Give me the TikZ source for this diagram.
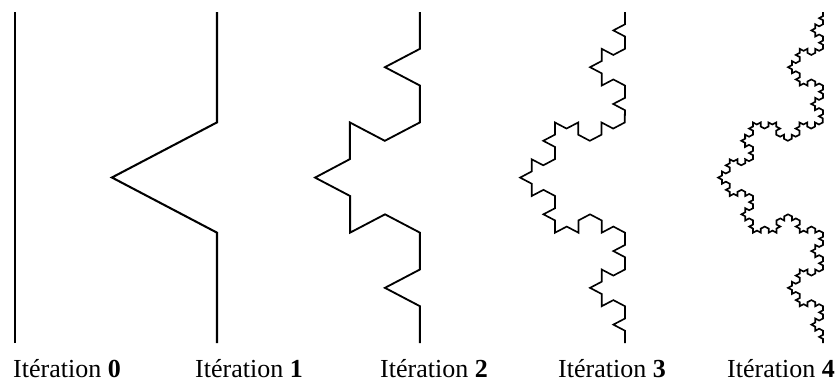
\documentclass[tikz,border=0pt]{standalone}
\usepackage{fontspec}
\setmainfont{Liberation Serif}
\usetikzlibrary{decorations.fractals}
\begin{document}
\begin{tikzpicture}[x=1pt,y=-1pt]
		\tikzstyle{koch}=[line width=1.6pt,line join=miter,decoration=Koch snowflake]
		\tikzstyle{iterlabel}=[anchor=base,inner sep=0pt,font=\fontsize{26}{30}\selectfont]
		\useasboundingbox (0,0) rectangle (838,383);
		\begin{scope}[transform canvas={xscale=1.1}]
		\coordinate (top_0) at (13.6,12);  \coordinate (bot_0) at (13.6,343);
		\coordinate (top_1) at (197.3,12); \coordinate (bot_1) at (197.3,343);
		\coordinate (top_2) at (381.8,12); \coordinate (bot_2) at (381.8,343);
		\coordinate (top_3) at (568.2,12); \coordinate (bot_3) at (568.2,343);
		\coordinate (top_4) at (748.2,12); \coordinate (bot_4) at (748.2,343);
		\draw[koch,line width=2.2pt] (bot_0) -- (top_0);
		\draw[koch,line width=2pt] decorate{(bot_1) -- (top_1)};
		\draw[koch,line width=1.8pt] decorate{decorate{(bot_2) -- (top_2)}};
		\draw[koch] decorate{decorate{decorate{(bot_3) -- (top_3)}}};
		\draw[koch] decorate{decorate{decorate{decorate{(bot_4) -- (top_4)}}}};
		\end{scope}
		\node[iterlabel] (it_0) at (67,377) {Itération \textbf{0}};
		\node[iterlabel] (it_1) at (249,377) {Itération \textbf{1}};
		\node[iterlabel] (it_2) at (434,377) {Itération \textbf{2}};
		\node[iterlabel] (it_3) at (612,377) {Itération \textbf{3}};
		\node[iterlabel] (it_4) at (781,377) {Itération \textbf{4}};
	\end{tikzpicture}
\end{document}
